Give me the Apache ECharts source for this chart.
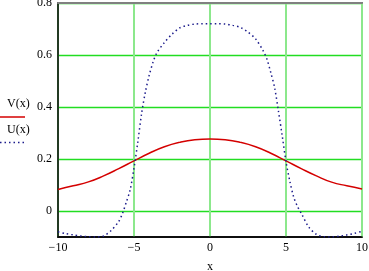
<!DOCTYPE html>
<html><head><meta charset="utf-8">
<script src="https://cdn.jsdelivr.net/npm/echarts@6/dist/echarts.min.js"></script>
<style>html,body{margin:0;padding:0;background:#fff}#c{width:369px;height:271px}</style>
</head><body><div id="c"></div>
<script>
const xTicks = [-10, -5, 0, 5, 10];
const yTicks = [0, 0.2, 0.4, 0.6, 0.8];
const xV = [-10,-9,-8,-7,-6,-5,-4,-3,-2,-1,0,1,2,3,4,5,6,7,8,9,10];
const valV = [0.083,0.097,0.112,0.135,0.163,0.193,0.222,0.247,0.264,0.274,0.277,0.274,0.264,0.247,0.222,0.193,0.163,0.135,0.111,0.097,0.085];
const xU = [-10,-9.5,-9,-8.5,-8,-7.5,-7,-6.5,-6,-5.75,-5.5,-5.25,-5,-4.75,-4.5,-4.25,-4,-3.75,-3.5,-3,-2.5,-2,-1.5,-1,-0.5,0,
            0.5,1,1.5,2,2.5,3,3.5,3.75,4,4.25,4.5,4.75,5,5.25,5.5,5.75,6,6.5,7,7.5,8,8.5,9,9.5,10];
const valU = [-0.080,-0.087,-0.092,-0.096,-0.099,-0.100,-0.096,-0.075,-0.040,-0.008,0.035,0.082,0.165,0.265,0.375,0.458,0.522,0.572,0.608,0.648,0.680,0.704,0.714,0.719,0.720,0.720,
              0.720,0.719,0.714,0.706,0.688,0.662,0.616,0.583,0.532,0.475,0.385,0.290,0.190,0.115,0.055,0.018,-0.008,-0.062,-0.090,-0.099,-0.100,-0.097,-0.092,-0.086,-0.078];
const seriesNames = ['V(x)', 'U(x)'];
const xLabel = 'x';

const font = 'Liberation Serif';
const fmt = v => (v < 0 ? '\u2212' + Math.abs(v) : String(v));
const chart = echarts.init(document.getElementById('c'), null, {renderer: 'canvas'});
chart.setOption({
  animation: false,
  backgroundColor: '#fff',
  textStyle: {fontFamily: font},
  grid: {left: 58, right: 7, top: 3, bottom: 34, containLabel: false, outerBoundsMode: 'none',
         show: true, borderColor: '#000', borderWidth: 1.5, backgroundColor: 'transparent'},
  xAxis: [{
    type: 'value', min: -10, max: 10, interval: 5, position: 'bottom',
    name: xLabel, nameLocation: 'middle', nameGap: 24,
    nameTextStyle: {fontFamily: font, fontSize: 12, color: '#000'},
    axisLine: {show: true, onZero: false, lineStyle: {color: '#000', width: 1.5}},
    axisTick: {show: false},
    axisLabel: {fontFamily: font, fontSize: 12, color: '#000', margin: 5, formatter: fmt, customValues: xTicks},
    splitLine: {show: true, lineStyle: {color: '#8ce88c', width: 2}}
  }, {
    type: 'value', min: -10, max: 10, interval: 5, position: 'top',
    axisLine: {show: true, onZero: false, lineStyle: {color: '#808080', width: 2}},
    axisTick: {show: false}, axisLabel: {show: false}, splitLine: {show: false}
  }],
  yAxis: [{
    type: 'value', min: -0.1, max: 0.8, position: 'left',
    axisLine: {show: true, onZero: false, lineStyle: {color: '#000', width: 1.5}},
    axisTick: {show: false, customValues: yTicks},
    axisLabel: {fontFamily: font, fontSize: 12, color: '#000', margin: 6, customValues: yTicks, formatter: v => String(v)},
    splitLine: {show: true, lineStyle: {color: '#22dd22', width: 1.3, opacity: 1}}
  }],
  series: [{
    name: seriesNames[0], type: 'line', showSymbol: false, smooth: 0.5,
    data: xV.map((x, i) => [x, valV[i]]),
    lineStyle: {color: '#d40000', width: 1.5}, z: 3
  }, {
    name: seriesNames[1], type: 'line', showSymbol: false, smooth: 0.3,
    data: xU.map((x, i) => [x, valU[i]]),
    lineStyle: {color: '#1c1c8c', width: 1.5, type: [1.5, 3]}, z: 3
  }],
  graphic: [
    {type: 'text', left: 7, top: 98, style: {text: seriesNames[0], font: '12px "Liberation Serif"', fill: '#000'}},
    {type: 'line', shape: {x1: 0, y1: 117, x2: 25, y2: 117}, style: {stroke: '#d40000', lineWidth: 1.5}},
    {type: 'text', left: 7, top: 124, style: {text: seriesNames[1], font: '12px "Liberation Serif"', fill: '#000'}},
    {type: 'line', shape: {x1: 0, y1: 142.5, x2: 25, y2: 142.5}, style: {stroke: '#1c1c8c', lineWidth: 1.5, lineDash: [1.5, 3]}}
  ]
});
</script></body></html>
